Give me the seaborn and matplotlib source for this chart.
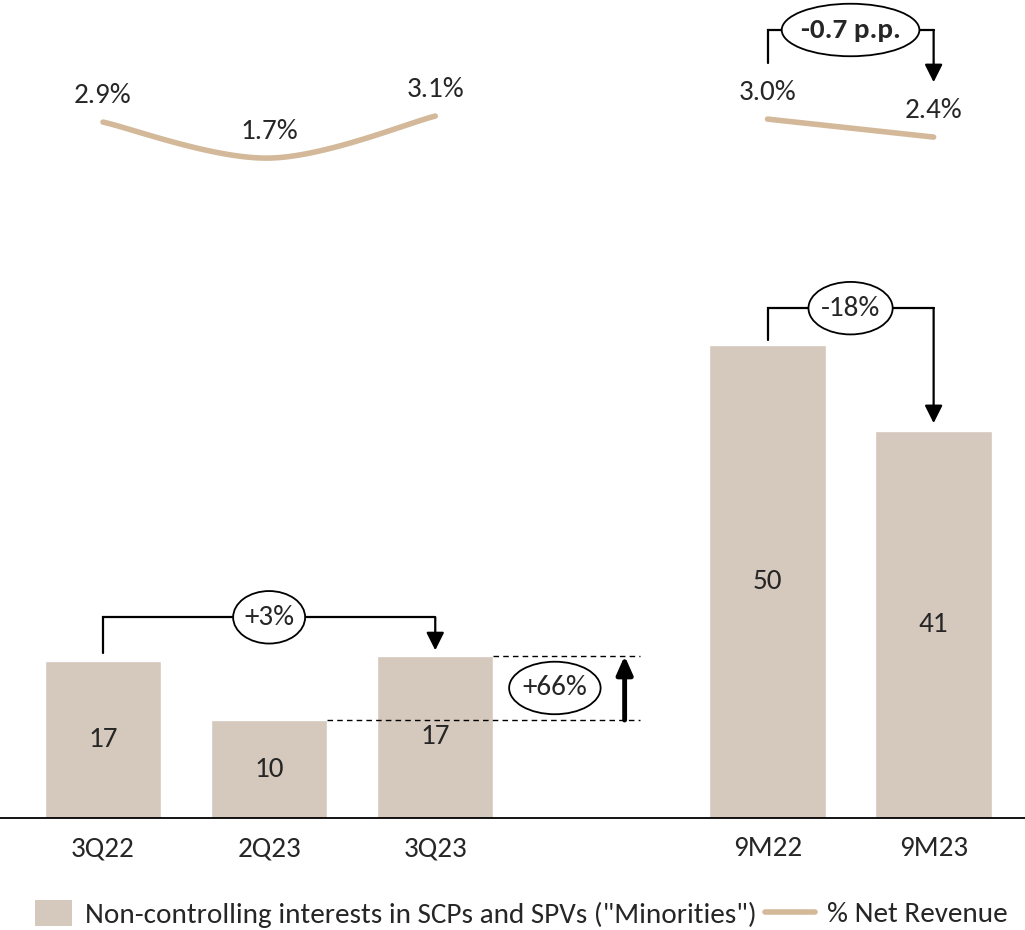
import numpy as np
import pandas as pd
import matplotlib
matplotlib.use("Agg")
import matplotlib.pyplot as plt
from matplotlib.patches import Patch
from matplotlib.lines import Line2D
from matplotlib.path import Path
from matplotlib.transforms import Affine2D
import seaborn as sns

# ---- data -------------------------------------------------------------
periods = ["3Q22", "2Q23", "3Q23", "9M22", "9M23"]
positions = [0, 1, 2, 4, 5]
minorities = [16.7, 10.4, 17.2, 50.2, 41.1]          # R$ mn
pct_net_revenue = [2.9, 1.7, 3.1, 3.0, 2.4]          # %
quarter_idx = [0, 1, 2]
ytd_idx = [3, 4]

bar_color = "#D5C8BC"
line_color = "#D3B999"

sns.set_theme(style="white")
plt.rcParams["font.family"] = ["Carlito", "Liberation Sans Narrow", "DejaVu Sans"]
FS = 21

fig = plt.figure(figsize=(10.25, 9.3), dpi=100)
ax = fig.add_axes([0.0, 0.1204, 1.0, 0.8796])

df = pd.DataFrame({"pos": positions, "value": minorities, "period": periods})
sns.barplot(data=df, x="pos", y="value", native_scale=True, width=0.7,
            color=bar_color, saturation=1, ax=ax)
ax.set_xlim(-0.62, 5.55)
ax.set_ylim(0, 86.8)

for s in ["top", "right", "left"]:
    ax.spines[s].set_visible(False)
ax.spines["bottom"].set_color("black")
ax.spines["bottom"].set_linewidth(1.3)
ax.set_yticks([])
ax.set_xticks(positions)
ax.set_xticklabels(periods, fontsize=FS)
ax.tick_params(axis="x", length=0, pad=13)
ax.set_xlabel("")
ax.set_ylabel("")

# bar value labels in the middle of each bar
for p, v in zip(positions, minorities):
    ax.text(p, v / 2, f"{v:.0f}", ha="center", va="center", fontsize=FS)

# ---- % net revenue line on its own scale ------------------------------
ax2 = ax.twinx()
ax2.set_ylim(-20.3, 6.97)
ax2.set_yticks([])
for s in ax2.spines.values():
    s.set_visible(False)


def smooth(xs, ys, n=40):
    """Catmull-Rom smoothing through the given points."""
    pts = np.column_stack([xs, ys]).astype(float)
    ext = np.vstack([pts[0], pts, pts[-1]])
    out = []
    t = np.linspace(0, 1, n)[:, None]
    for i in range(1, len(ext) - 2):
        p0, p1, p2, p3 = ext[i - 1], ext[i], ext[i + 1], ext[i + 2]
        seg = 0.5 * ((2 * p1) + (-p0 + p2) * t + (2 * p0 - 5 * p1 + 4 * p2 - p3) * t ** 2
                     + (-p0 + 3 * p1 - 3 * p2 + p3) * t ** 3)
        out.append(seg if i == 1 else seg[1:])
    out = np.vstack(out)
    return out[:, 0], out[:, 1]


qx, qy = smooth([positions[i] for i in quarter_idx], [pct_net_revenue[i] for i in quarter_idx])
sns.lineplot(x=qx, y=qy, sort=False, color=line_color, lw=4, ax=ax2,
             solid_capstyle="round")
sns.lineplot(x=[positions[i] for i in ytd_idx], y=[pct_net_revenue[i] for i in ytd_idx],
             sort=False, color=line_color, lw=4, ax=ax2, solid_capstyle="round")
ax2.set_xlim(-0.62, 5.55)

for p, v in zip(positions, pct_net_revenue):
    ax2.text(p, v + 0.88, f"{v:.1f}%", ha="center", va="center", fontsize=FS)


# ---- variation call-outs ----------------------------------------------
def oval(x0, y0, width, height, mutation_size):
    """Oval frame around the label, scaled to the text width."""
    a = 0.66 * width + 0.1 * mutation_size
    b = 0.9 * mutation_size
    tr = Affine2D().scale(a, b).translate(x0 + width / 2, y0 + height / 2)
    return tr.transform_path(Path.unit_circle())


ell = dict(boxstyle=oval, fc="white", ec="black", lw=1.3)
arrow = dict(arrowstyle="-|>,head_width=0.45,head_length=0.9", lw=1.6,
             color="black", shrinkA=0, shrinkB=0)


def bracket(axis, x0, x1, y0, level, y1, label, bold=False):
    axis.plot([x0, x0, x1], [y0, level, level], color="black", lw=1.6,
              solid_joinstyle="miter")
    axis.annotate("", xy=(x1, y1), xytext=(x1, level), arrowprops=arrow)
    axis.text((x0 + x1) / 2, level, label, ha="center", va="center",
              fontsize=FS, fontweight="bold" if bold else "normal", bbox=ell)


# 3Q22 -> 3Q23
bracket(ax, positions[0], positions[2], minorities[0] + 0.8,
        max(minorities[:3]) + 4.1, minorities[2] + 0.6, "+3%")
# 9M22 -> 9M23
bracket(ax, positions[3], positions[4], minorities[3] + 0.5,
        minorities[3] + 3.9, minorities[4] + 0.8, "-18%")
# margin change 9M22 -> 9M23
bracket(ax2, positions[3], positions[4], pct_net_revenue[3] + 1.87,
        pct_net_revenue[3] + 2.97, pct_net_revenue[4] + 1.83, "-0.7 p.p.", bold=True)

# 2Q23 -> 3Q23 step
x_end = 3.23
ax.plot([positions[1] + 0.35, x_end], [minorities[1]] * 2, color="black",
        lw=1.0, ls=(0, (4, 3)))
ax.plot([positions[2] + 0.35, x_end], [minorities[2]] * 2, color="black",
        lw=1.0, ls=(0, (4, 3)))
ax.annotate("", xy=(3.14, minorities[2]), xytext=(3.14, minorities[1]),
            arrowprops=dict(arrowstyle="-|>,head_width=0.4,head_length=0.9",
                            lw=3.5, color="black", shrinkA=0, shrinkB=0))
ax.text(2.72, (minorities[1] + minorities[2]) / 2, "+66%", ha="center",
        va="center", fontsize=FS, bbox=ell)

# ---- legend (two entries placed independently) --------------------------
leg_kw = dict(frameon=False, fontsize=FS, borderpad=0, borderaxespad=0,
              loc="center left")
fig.legend([Patch(facecolor=bar_color, edgecolor="none")],
           ['Non-controlling interests in SCPs and SPVs ("Minorities")'],
           bbox_to_anchor=(35 / 1025, 16 / 930), handlelength=1.27,
           handleheight=0.96, handletextpad=0.45, **leg_kw)
fig.legend([Line2D([0], [0], color=line_color, lw=4, solid_capstyle="round")],
           ["% Net Revenue"], bbox_to_anchor=(765 / 1025, 16 / 930),
           handlelength=1.7, handletextpad=0.42, **leg_kw)

fig.savefig("out.png", dpi=100)
